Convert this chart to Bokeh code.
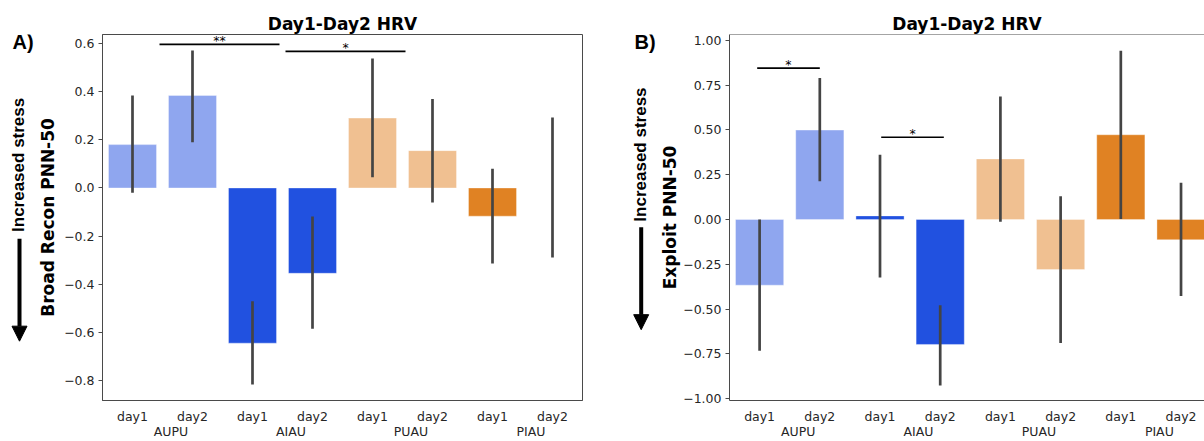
from bokeh.plotting import figure
from bokeh.models import (Range1d, LinearAxis, FixedTicker, Label, Arrow, NormalHead,
                          Span, ColumnDataSource)
from bokeh.layouts import row
from bokeh.embed import file_html
from bokeh.resources import INLINE
from bokeh.core.properties import value

# ---------------- data ----------------
groups = ["AUPU", "AIAU", "PUAU", "PIAU"]
days = ["day1", "day2"]
group_colors = ["#8fa6ef", "#2151e0", "#f0c091", "#e08223"]

title_text = "Day1-Day2 HRV"
stress_text = "Increased stress"

# Panel A
a_letter = "A)"
a_ylabel = "Broad Recon PNN-50"
a_mean = [0.18, 0.384, -0.644, -0.354, 0.29, 0.155, -0.117, 0.0]
a_lo = [-0.02, 0.19, -0.816, -0.584, 0.045, -0.06, -0.313, -0.289]
a_hi = [0.384, 0.571, -0.47, -0.118, 0.537, 0.369, 0.08, 0.293]
a_yticks = [-0.8, -0.6, -0.4, -0.2, 0.0, 0.2, 0.4, 0.6]
a_yticklabels = ["\u22120.8", "\u22120.6", "\u22120.4", "\u22120.2", "0.0", "0.2", "0.4", "0.6"]
a_ylim = [-0.882, 0.637]
a_sig_x0 = [0.45, 2.55]
a_sig_x1 = [2.45, 4.55]
a_sig_y = [0.596, 0.567]
a_sig_text = ["**", "*"]

# Panel B
b_letter = "B)"
b_ylabel = "Exploit PNN-50"
b_mean = [-0.367, 0.499, 0.02, -0.698, 0.338, -0.28, 0.473, -0.113]
b_lo = [-0.733, 0.214, -0.324, -0.927, -0.013, -0.69, 0.003, -0.428]
b_hi = [0.0, 0.79, 0.362, -0.479, 0.687, 0.13, 0.942, 0.205]
b_yticks = [-1.0, -0.75, -0.5, -0.25, 0.0, 0.25, 0.5, 0.75, 1.0]
b_yticklabels = ["\u22121.00", "\u22120.75", "\u22120.50", "\u22120.25", "0.00",
                 "0.25", "0.50", "0.75", "1.00"]
b_ylim = [-1.011, 1.033]
b_sig_x0 = [-0.04, 2.02]
b_sig_x1 = [1.0, 3.06]
b_sig_y = [0.845, 0.459]
b_sig_text = ["*", "*"]

# ---------------- styling ----------------
FONT = "DejaVu Sans"
LFONT = "Liberation Sans"
SPINE = "#4a4a4a"
TICKC = "#262626"
ERRC = "#444444"
H = 441
TOP = 34
BOTTOM = 35


def make_side(width, letter, letter_x, stress_x, stress_y, arrow_x, arrow_y0, arrow_y1):
    # side strip: frame shares the main panels' vertical extent; data y == page pixel row
    s = figure(width=width, height=H, output_backend="svg", toolbar_location=None,
               x_range=Range1d(0, width), y_range=Range1d(H - BOTTOM, TOP),
               x_axis_location=None, y_axis_location=None, min_border_left=0,
               min_border_right=0, min_border_top=TOP, min_border_bottom=BOTTOM)
    s.grid.grid_line_color = None
    s.outline_line_color = None
    s.background_fill_color = "white"
    s.border_fill_color = "white"
    s.add_layout(Label(x=letter_x, y=42, text=letter, text_align="left",
                       text_baseline="alphabetic", text_font=LFONT, text_font_style="bold",
                       text_font_size="20px", text_color="black"))
    s.add_layout(Label(x=stress_x, y=stress_y, text=stress_text, angle=90,
                       angle_units="deg", text_align="center", text_baseline="middle",
                       text_font=LFONT, text_font_style="bold", text_font_size="17px",
                       text_color="black"))
    s.add_layout(Arrow(x_start=arrow_x, y_start=arrow_y0, x_end=arrow_x, y_end=arrow_y1,
                       line_width=4, line_color="black",
                       end=NormalHead(size=15, fill_color="black", line_color="black")))
    return s


def make_panel(width, bleft, bright, x_end, ylim, mean, lo, hi, yticks, yticklabels,
               ylabel, sig_x0, sig_x1, sig_y, sig_text, full_outline, title_offset,
               label_standoff):
    n = len(groups) * len(days)
    xs = list(range(n))
    colors = [group_colors[i // len(days)] for i in xs]
    p = figure(width=width, height=H, output_backend="svg", toolbar_location=None,
               x_range=Range1d(-0.5, x_end), y_range=Range1d(ylim[0], ylim[1]),
               x_axis_location=None, min_border_left=bleft, min_border_right=bright,
               min_border_top=TOP, min_border_bottom=BOTTOM, title=title_text)
    p.title.align = "center"
    p.title.text_font = FONT
    p.title.text_font_style = "bold"
    p.title.text_font_size = "17px"
    p.title.text_color = "black"
    p.title.standoff = 2
    p.title.offset = title_offset
    p.grid.grid_line_color = None
    p.background_fill_color = "white"
    p.border_fill_color = "white"
    if full_outline:
        p.outline_line_color = SPINE
        p.outline_line_width = 1
    else:
        p.outline_line_color = None
        p.add_layout(Span(location=ylim[1], dimension="width", line_color=SPINE, line_width=1))

    src = ColumnDataSource(dict(x=xs, top=mean, lo=lo, hi=hi, color=colors))
    p.vbar(x="x", top="top", bottom=0, width=0.8, fill_color="color", source=src,
           line_color="white", line_alpha=0.35, line_width=1)
    p.segment(x0="x", y0="lo", x1="x", y1="hi", source=src, line_color=ERRC, line_width=2.7)

    sig = ColumnDataSource(dict(x0=sig_x0, x1=sig_x1, y=sig_y, t=sig_text,
                                xm=[(a + b) / 2 for a, b in zip(sig_x0, sig_x1)]))
    p.segment(x0="x0", y0="y", x1="x1", y1="y", source=sig, line_color="black", line_width=1.6)
    p.text(x="xm", y="y", text="t", source=sig, text_font=value(FONT), text_font_size="12.5px",
           text_align="center", text_baseline="alphabetic", y_offset=-4, text_color="black")

    # y axis
    ya = p.yaxis[0]
    ya.ticker = FixedTicker(ticks=yticks)
    ya.major_label_overrides = dict(zip(yticks, yticklabels))
    ya.major_label_text_font = FONT
    ya.major_label_text_font_size = "12.5px"
    ya.major_label_text_color = TICKC
    ya.major_tick_out = 4
    ya.major_tick_in = 0
    ya.major_tick_line_color = SPINE
    ya.minor_tick_line_color = None
    ya.minor_tick_out = 0
    ya.axis_line_color = SPINE
    ya.major_label_standoff = 4
    ya.axis_label = ylabel
    ya.axis_label_text_font = FONT
    ya.axis_label_text_font_style = "bold"
    ya.axis_label_text_font_size = "17px"
    ya.axis_label_text_color = "black"
    ya.axis_label_standoff = label_standoff

    # x axes: day labels and group labels
    day_ax = LinearAxis(ticker=FixedTicker(ticks=xs),
                        major_label_overrides={x: days[x % len(days)] for x in xs})
    day_ax.major_tick_line_color = None
    day_ax.minor_tick_line_color = None
    day_ax.major_tick_out = 0
    day_ax.major_tick_in = 0
    day_ax.minor_tick_out = 0
    day_ax.axis_line_color = SPINE
    day_ax.major_label_text_font = FONT
    day_ax.major_label_text_font_size = "12.5px"
    day_ax.major_label_text_color = TICKC
    day_ax.major_label_standoff = 8
    p.add_layout(day_ax, "below")

    gpos = [len(days) * g + 0.64 for g in range(len(groups))]
    grp_ax = LinearAxis(ticker=FixedTicker(ticks=gpos),
                        major_label_overrides=dict(zip(gpos, groups)))
    grp_ax.major_tick_line_color = None
    grp_ax.minor_tick_line_color = None
    grp_ax.major_tick_out = 0
    grp_ax.major_tick_in = 0
    grp_ax.minor_tick_out = 0
    grp_ax.axis_line_color = None
    grp_ax.major_label_text_font = FONT
    grp_ax.major_label_text_font_size = "12.5px"
    grp_ax.major_label_text_color = TICKC
    grp_ax.major_label_standoff = -3
    p.add_layout(grp_ax, "below")
    return p


side_a = make_side(35, a_letter, 12, 17.5, 166.5, 19, 241.7, 345.7)
p1 = make_panel(585, 66, 38, 7.5, a_ylim, a_mean, a_lo, a_hi, a_yticks, a_yticklabels,
                a_ylabel, a_sig_x0, a_sig_x1, a_sig_y, a_sig_text, True, 0, 3)
side_b = make_side(36, b_letter, 14, 19.5, 156, 20.7, 230, 334)
p2 = make_panel(548, 73, 0, 7.39, b_ylim, b_mean, b_lo, b_hi, b_yticks, b_yticklabels,
                b_ylabel, b_sig_x0, b_sig_x1, b_sig_y, b_sig_text, False, 3, 0)

layout = row(side_a, p1, side_b, p2)
open("out.html", "w").write(file_html(layout, INLINE, "Day1-Day2 HRV"))
